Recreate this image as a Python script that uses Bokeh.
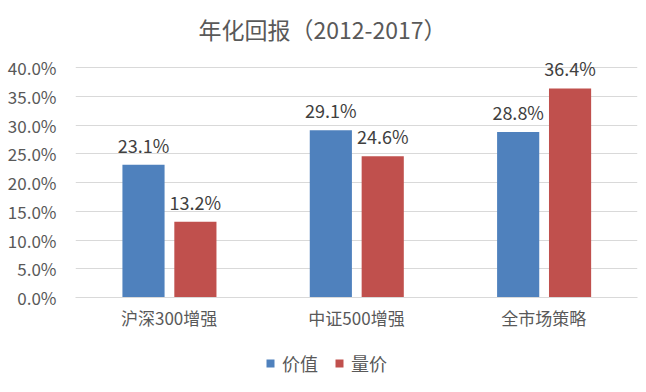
from bokeh.plotting import figure
from bokeh.layouts import column
from bokeh.models import (ColumnDataSource, FactorRange, Range1d, NumeralTickFormatter,
                          FixedTicker, Legend, LegendItem)
from bokeh.core.properties import value
from bokeh.transform import dodge
from bokeh.embed import file_html
from bokeh.resources import INLINE

categories = ["沪深300增强", "中证500增强", "全市场策略"]
value_series = [0.231, 0.291, 0.288]   # 价值
volume_price = [0.132, 0.246, 0.364]   # 量价
series_names = ["价值", "量价"]
series_colors = ["#4F81BD", "#C0504D"]
y_ticks = [0.0, 0.05, 0.10, 0.15, 0.20, 0.25, 0.30, 0.35, 0.40]
title_text = "年化回报（2012-2017）"

FONT = "Noto Sans CJK SC"
GRAY = "#595959"


def strip(height):
    f = figure(width=640, height=height, x_range=Range1d(0, 1), y_range=Range1d(0, 1),
               output_backend="svg", toolbar_location=None,
               min_border_left=0, min_border_right=0, min_border_top=0, min_border_bottom=0)
    f.axis.visible = False
    f.grid.visible = False
    f.outline_line_color = None
    return f


# title strip
tf = strip(50)
tf.text(x=[0.4395], y=[0.44], text=[title_text], text_align="center", text_baseline="middle",
        text_font=value(FONT), text_font_size="23px", text_color=GRAY)

src = ColumnDataSource(dict(
    cat=categories,
    v1=value_series,
    v2=volume_price,
    l1=[f"{v*100:.1f}%" for v in value_series],
    l2=[f"{v*100:.1f}%" for v in volume_price],
))

p = figure(width=640, height=296, x_range=FactorRange(*categories), y_range=Range1d(0, 0.43),
           output_backend="svg", toolbar_location=None,
           min_border_left=75, min_border_right=3, min_border_top=0, min_border_bottom=49)
p.outline_line_color = None
p.background_fill_color = "white"
p.border_fill_color = "white"

p.vbar(x=dodge("cat", -0.137, range=p.x_range), top="v1", width=0.225, source=src,
       fill_color=series_colors[0], line_color=None)
p.vbar(x=dodge("cat", 0.14, range=p.x_range), top="v2", width=0.225, source=src,
       fill_color=series_colors[1], line_color=None)

p.text(x=dodge("cat", -0.137, range=p.x_range), y="v1", text="l1", source=src,
       text_align="center", text_baseline="bottom", y_offset=-7,
       text_font_size="18px", text_color="#404040", text_font=value(FONT))
p.text(x=dodge("cat", 0.14, range=p.x_range), y="v2", text="l2", source=src,
       text_align="center", text_baseline="bottom", y_offset=-7,
       text_font_size="18px", text_color="#404040", text_font=value(FONT))

p.yaxis.ticker = FixedTicker(ticks=y_ticks)
p.yaxis.formatter = NumeralTickFormatter(format="0.0%")
p.yaxis.axis_line_color = None
p.yaxis.major_tick_line_color = None
p.yaxis.minor_tick_line_color = None
p.yaxis.major_label_text_font = FONT
p.yaxis.major_label_text_font_size = "17px"
p.yaxis.major_label_text_color = GRAY
p.yaxis.major_label_standoff = 13

p.xaxis.axis_line_color = "#D9D9D9"
p.xaxis.major_tick_line_color = None
p.xaxis.minor_tick_line_color = None
p.xaxis.major_label_text_font = FONT
p.xaxis.major_label_text_font_size = "17px"
p.xaxis.major_label_text_color = GRAY
p.xaxis.major_label_standoff = 1

p.xgrid.grid_line_color = None
p.ygrid.grid_line_color = "#D9D9D9"
p.ygrid.ticker = FixedTicker(ticks=y_ticks)

# legend strip below the chart
lg = strip(46)
lr1 = lg.vbar(x=[0.5], top=[0], bottom=[0], width=0.01, fill_color=series_colors[0], line_color=None)
lr2 = lg.vbar(x=[0.5], top=[0], bottom=[0], width=0.01, fill_color=series_colors[1], line_color=None)
legend = Legend(items=[LegendItem(label=series_names[0], renderers=[lr1]),
                       LegendItem(label=series_names[1], renderers=[lr2])],
                orientation="horizontal", location=(190, 16),
                padding=0, spacing=16, glyph_width=10, glyph_height=10, margin=0,
                label_text_font=FONT, label_text_font_size="18px", label_text_color=GRAY,
                label_standoff=7, border_line_color=None, background_fill_alpha=0)
lg.add_layout(legend)

layout = column(tf, p, lg, spacing=0)
open("out.html", "w").write(file_html(layout, INLINE))
